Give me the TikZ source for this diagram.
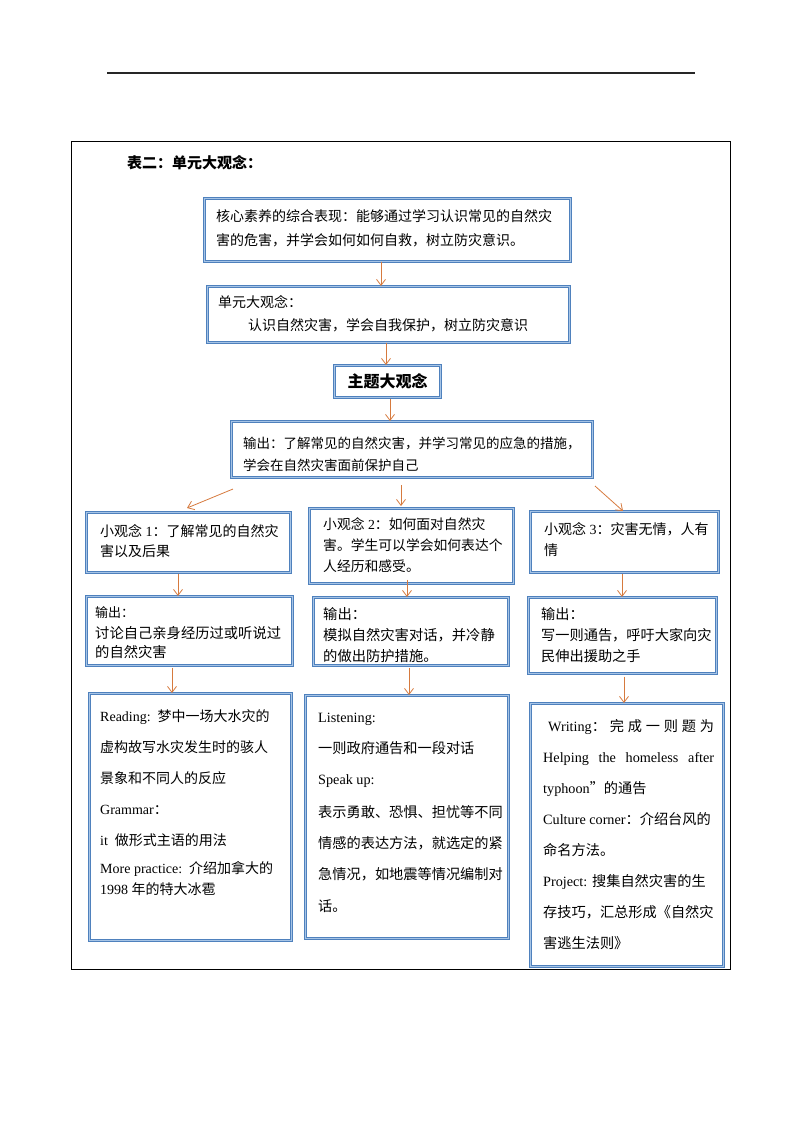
\documentclass[tikz,border=0pt]{standalone}
\usepackage{fontspec}
\setmainfont{Liberation Serif}
\newfontfamily\cjk{Noto Sans CJK SC}
\usetikzlibrary{arrows.meta}
\definecolor{bxlight}{RGB}{166,196,230}
\definecolor{bxdark}{RGB}{79,129,189}
\definecolor{arrc}{RGB}{214,122,62}
\newcommand\zhs[1]{{\cjk #1}}
\newcommand\fl{\rule{0pt}{0.84em}}
\tikzset{
  bx/.style={draw=bxdark, double=bxlight, double distance=1.5pt, line width=0.5pt,
    inner sep=0pt, anchor=north west},
  bxthick/.style={draw=bxdark, double=bxlight, double distance=1pt, line width=1.2pt,
    inner sep=0pt, anchor=north west},
  tx/.style={inner sep=0pt, anchor=north west, align=left},
  arr/.style={draw=arrc, line width=0.8pt, -{Straight Barb[length=6pt,width=9pt]}},
}
\begin{document}
\begin{tikzpicture}[x=1pt,y=-1pt]
\useasboundingbox (0,0) rectangle (793,1122);
% page rule and frame
\coordinate (rl) at (107,73);
\coordinate (rr) at (695,73);
\draw[line width=1.2pt, black!85] (rl) -- (rr);
\node[draw=black, line width=1pt, inner sep=0pt, anchor=north west,
      minimum width=659pt, minimum height=828pt] (frame) at (71,141) {};
\node[tx, font=\fontsize{15}{20}\selectfont] (title) at (127,155) {\fl\zhs{\bfseries 表二：单元大观念：}};

% top chain
\node[bx, minimum width=366pt, minimum height=63pt] (b1) at (204,198) {};
\node[tx, font=\fontsize{14}{24}\selectfont\cjk] (t1) at (216,209.5)
  {\fl 核心素养的综合表现：能够通过学习认识常见的自然灾\\害的危害，并学会如何如何自救，树立防灾意识。};
\node[bx, minimum width=362pt, minimum height=56pt] (b2) at (207,286) {};
\node[tx, font=\fontsize{14}{23}\selectfont\cjk] (t2) at (218,295.5)
  {\fl 单元大观念：\\\hspace*{30pt}认识自然灾害，学会自我保护，树立防灾意识};
\node[bxthick, minimum width=106pt, minimum height=32pt,
      font=\fontsize{16}{20}\selectfont\cjk\bfseries] (b3) at (334,365) {主题大观念};
\node[bx, minimum width=361pt, minimum height=56pt] (b4) at (231,421) {};
\node[tx, font=\fontsize{13.5}{22}\selectfont\cjk] (t4) at (243,436.8)
  {\fl 输出：了解常见的自然灾害，并学习常见的应急的措施，\\学会在自然灾害面前保护自己};

% row A
\node[bx, minimum width=204pt, minimum height=60pt] (a1) at (86,512) {};
\node[tx, font=\fontsize{14}{20}\selectfont] (ta1) at (100,524.6)
  {\fl\zhs{小观念} 1\zhs{：了解常见的自然灾}\\\zhs{害以及后果}};
\node[bx, minimum width=204pt, minimum height=75pt] (a2) at (309,508) {};
\node[tx, font=\fontsize{13.8}{21}\selectfont] (ta2) at (323,517.7)
  {\fl\zhs{小观念} 2\zhs{：如何面对自然灾}\\\zhs{害。学生可以学会如何表达个}\\\zhs{人经历和感受。}};
\node[bx, minimum width=188pt, minimum height=61pt] (a3) at (530,511) {};
\node[tx, font=\fontsize{14}{21}\selectfont] (ta3) at (544,522.6)
  {\fl\zhs{小观念} 3\zhs{：灾害无情，人有}\\\zhs{情}};

% row B
\node[bx, minimum width=206pt, minimum height=69pt] (bb1) at (86,596) {};
\node[tx, font=\fontsize{13}{20}\selectfont\cjk] (tb1a) at (95,606) {\fl 输出：};
\node[tx, font=\fontsize{14.3}{19}\selectfont\cjk] (tb1b) at (95,626.4)
  {\fl 讨论自己亲身经历过或听说过\\的自然灾害};
\node[bx, minimum width=195pt, minimum height=68pt] (bb2) at (313,597) {};
\node[tx, font=\fontsize{14.3}{21}\selectfont\cjk] (tb2) at (323,607)
  {\fl 输出：\\模拟自然灾害对话，并冷静\\的做出防护措施。};
\node[bx, minimum width=188pt, minimum height=76pt] (bb3) at (528,597) {};
\node[tx, font=\fontsize{14.2}{21}\selectfont\cjk] (tb3) at (541,607)
  {\fl 输出：\\写一则通告，呼吁大家向灾\\民伸出援助之手};

% row C
\node[bx, minimum width=202pt, minimum height=247pt] (c1) at (89,693) {};
\node[tx, font=\fontsize{14}{31}\selectfont] (tc1) at (100,709.6)
  {\fl Reading:\ \ \zhs{梦中一场大水灾的}\\
   \zhs{虚构故写水灾发生时的骇人}\\
   \zhs{景象和不同人的反应}\\
   Grammar\zhs{：}\\
   it\ \ \zhs{做形式主语的用法}\\[-3pt]
   More practice:\ \ \zhs{介绍加拿大的}\\[-10pt]
   1998 \zhs{年的特大冰雹}};
\node[bx, minimum width=203pt, minimum height=243pt] (c2) at (305,695) {};
\node[tx, font=\fontsize{14.2}{31}\selectfont] (tc2) at (318,710)
  {\fl Listening:\\
   \zhs{一则政府通告和一段对话}\\
   Speak up:\\[2pt]
   \zhs{表示勇敢、恐惧、担忧等不同}\\
   \zhs{情感的表达方法，就选定的紧}\\
   \zhs{急情况，如地震等情况编制对}\\[1pt]
   \zhs{话。}};
\node[bx, minimum width=193pt, minimum height=263pt] (c3) at (530,703) {};
\node[tx, font=\fontsize{14.2}{31}\selectfont] (tc3) at (543,719.6)
  {\fl\makebox[171pt][s]{\hspace*{5pt}Writing\zhs{：} \zhs{完} \zhs{成} \zhs{一} \zhs{则} \zhs{题} \zhs{为}}\\
   \makebox[171pt][s]{Helping the homeless after}\\
   typhoon\zhs{”的通告}\\
   Culture corner\zhs{：介绍台风的}\\
   \zhs{命名方法。}\\
   Project: \zhs{搜集自然灾害的生}\\
   \zhs{存技巧，汇总形成《自然灾}\\
   \zhs{害逃生法则》}};

% connectors
\draw[arr] (b1.south -| 381,0) -- (b2.north -| 381,0);
\draw[arr] (b2.south -| 386,0) -- (b3.north -| 386,0);
\draw[arr, shorten <=1pt] (b3.south -| 390,0) -- (b4.north -| 390,0);
\coordinate (l4s) at (233,489);
\coordinate (l4e) at (187,508);
\coordinate (m4s) at (401,485);
\coordinate (m4e) at (401,506);
\coordinate (r4s) at (595,486);
\coordinate (r4e) at (623,511);
\draw[arr] (l4s) -- (l4e);
\draw[arr] (m4s) -- (m4e);
\draw[arr] (r4s) -- (r4e);
\draw[arr, shorten <=1pt] (a1.south -| 178,0) -- (bb1.north -| 178,0);
\draw[arr, shorten <=-4pt] (a2.south -| 407,0) -- (bb2.north -| 407,0);
\draw[arr, shorten <=1pt] (a3.south -| 622,0) -- (bb3.north -| 622,0);
\draw[arr, shorten <=2pt] (bb1.south -| 172,0) -- (c1.north -| 172,0);
\draw[arr, shorten <=2pt] (bb2.south -| 409,0) -- (c2.north -| 409,0);
\draw[arr, shorten <=3pt] (bb3.south -| 624,0) -- (c3.north -| 624,0);
\end{tikzpicture}
\end{document}
